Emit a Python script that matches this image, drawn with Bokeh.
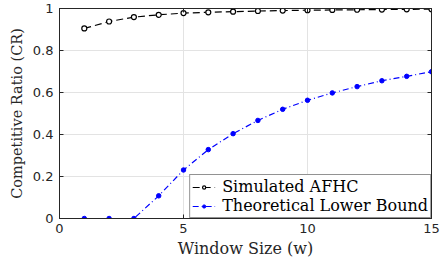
from bokeh.plotting import figure
from bokeh.models import LinearAxis, Range1d, FixedTicker, Legend, LegendItem
from bokeh.embed import file_html
from bokeh.resources import INLINE

window = list(range(1, 16))
simulated_afhc = [0.905, 0.938, 0.959, 0.970, 0.978, 0.982, 0.985, 0.988,
                  0.990, 0.992, 0.993, 0.994, 0.995, 0.996, 0.997]
lower_bound = [0.0, 0.0, 0.0, 0.108, 0.231, 0.328, 0.404, 0.467,
               0.520, 0.563, 0.598, 0.628, 0.656, 0.677, 0.699]
x_ticks = [0, 5, 10, 15]
y_ticks = [0, 0.2, 0.4, 0.6, 0.8, 1]
y_tick_labels = {0: "0", 0.2: "0.2", 0.4: "0.4", 0.6: "0.6", 0.8: "0.8", 1: "1"}
x_label = "Window Size (w)"
y_label = "Competitive Ratio (CR)"

AX = "#262626"
SERIF = "DejaVu Serif"
SANS = "DejaVu Sans"

p = figure(width=440, height=260, output_backend="svg", toolbar_location=None,
           x_range=Range1d(0, 15), y_range=Range1d(0, 1),
           min_border_left=59, min_border_right=9, min_border_top=8, min_border_bottom=0)
p.background_fill_color = "white"
p.border_fill_color = "white"
p.outline_line_color = AX
p.outline_line_width = 1

for ax in (p.xaxis[0], p.yaxis[0]):
    ax.major_tick_in = 4
    ax.major_tick_out = 0
    ax.minor_tick_line_color = None
    ax.axis_line_color = AX
    ax.major_tick_line_color = AX
    ax.major_label_text_font = SANS
    ax.major_label_text_font_size = "13px"
    ax.major_label_text_color = AX
    ax.axis_label_text_font = SERIF
    ax.axis_label_text_font_style = "normal"
    ax.axis_label_text_color = AX

p.xaxis.ticker = FixedTicker(ticks=x_ticks)
p.yaxis.ticker = FixedTicker(ticks=y_ticks)
p.yaxis.major_label_overrides = y_tick_labels
p.xaxis.axis_label = x_label
p.yaxis.axis_label = y_label
p.xaxis.axis_label_text_font_size = "16px"
p.yaxis.axis_label_text_font_size = "14.5px"
p.xaxis.major_label_standoff = 5
p.xaxis.axis_label_standoff = 3
p.yaxis.major_label_standoff = 6
p.yaxis.axis_label_standoff = 5

for loc, tick_vals in (("right", y_ticks), ("above", x_ticks)):
    ax = LinearAxis(ticker=FixedTicker(ticks=tick_vals))
    ax.major_tick_in = 4
    ax.major_tick_out = 0
    ax.minor_tick_line_color = None
    ax.major_label_text_color = None
    ax.major_label_text_font_size = "1px"
    ax.major_label_standoff = 0
    ax.axis_line_color = AX
    ax.major_tick_line_color = AX
    p.add_layout(ax, loc)

p.xgrid.ticker = FixedTicker(ticks=x_ticks)
p.ygrid.ticker = FixedTicker(ticks=y_ticks)
p.grid.grid_line_color = "#e3e3e3"
p.grid.grid_line_width = 1

l1 = p.line(window, simulated_afhc, line_color="black", line_width=1.2, line_dash="7 4")
c1 = p.scatter(window, simulated_afhc, size=5, marker="circle", line_color="black",
               fill_color="white", line_width=1.2)
l2 = p.line(window, lower_bound, line_color="#0000ff", line_width=1.2, line_dash="6 3 1 3")
c2 = p.scatter(window, lower_bound, size=4.5, marker="circle", line_color="#0000ff",
               fill_color="#0000ff")

legend = Legend(items=[LegendItem(label="Simulated AFHC", renderers=[l1, c1]),
                       LegendItem(label="Theoretical Lower Bound", renderers=[l2, c2])],
                location="bottom_right")
legend.label_text_font = SERIF
legend.label_text_font_size = "16px"
legend.label_text_color = "black"
legend.border_line_color = AX
legend.border_line_width = 1
legend.background_fill_alpha = 1
legend.margin = 0
legend.padding = 2
legend.spacing = 0
legend.glyph_width = 23
legend.glyph_height = 8
legend.label_height = 17
legend.label_standoff = 7
p.add_layout(legend)

open("out.html", "w").write(file_html(p, INLINE))
